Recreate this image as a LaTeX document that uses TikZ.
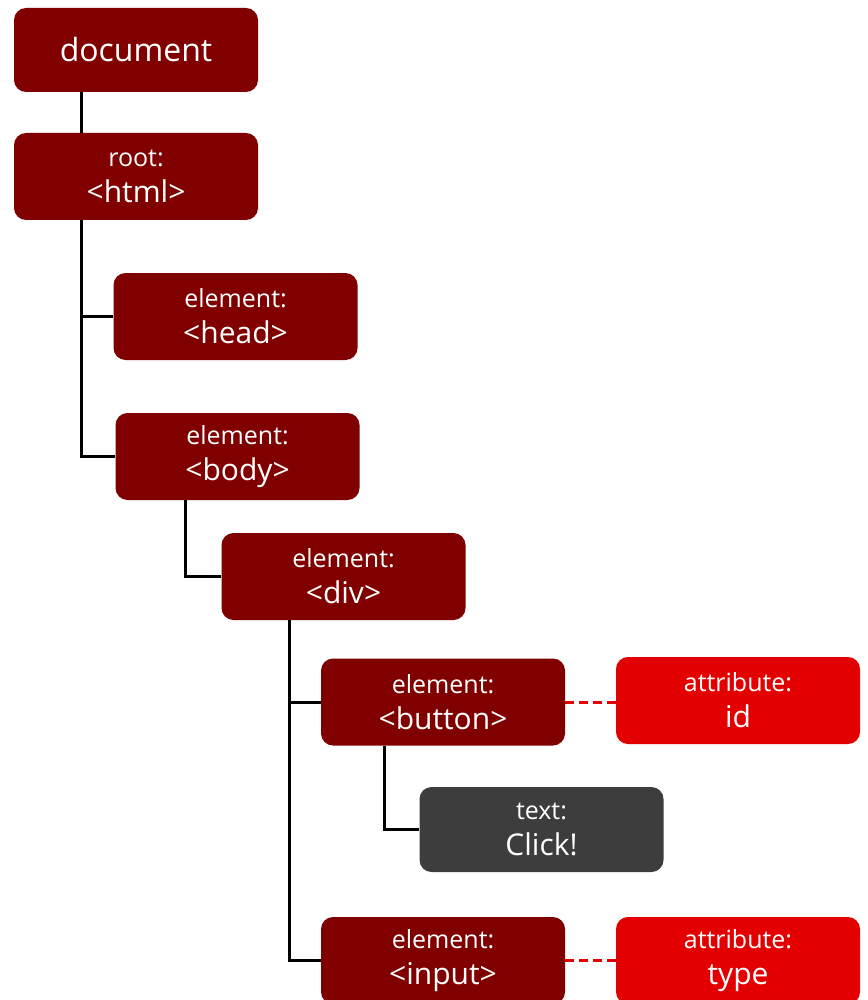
\documentclass[tikz,border=0pt]{standalone}
\usepackage{fontspec}
\setmainfont{Open Sans}
\definecolor{nodered}{HTML}{800000}
\definecolor{attrred}{HTML}{E30000}
\definecolor{textgray}{HTML}{3D3D3D}
\newcommand{\kindof}[1]{{\fontsize{25}{28}\selectfont #1}}

\begin{document}
\begin{tikzpicture}[x=1pt, y=-1pt,
    domnode/.style={rounded corners=12pt, fill=nodered, text=white,
        minimum width=244pt, minimum height=87pt, inner sep=0pt,
        align=center, font=\fontsize{30}{36}\selectfont},
    attrnode/.style={domnode, fill=attrred},
    textnode/.style={domnode, fill=textgray},
    tree/.style={line width=3pt},
    attrlink/.style={line width=3pt, attrred, dash pattern=on 9pt off 5pt}]
    \useasboundingbox (0,0) rectangle (867,1000);

    % nodes of the tree
    \node[domnode, minimum height=84pt, font=\fontsize{32}{36}\selectfont] (document) at (136,50) {document};
    \node[domnode] (html) at (136,176.5) {\kindof{root:}\\<html>};
    \node[domnode] (head) at (235.5,316.5) {\kindof{element:}\\<head>};
    \node[domnode] (body) at (237.5,456.5) {\kindof{element:}\\<body>};
    \node[domnode] (div) at (343.5,576.5) {\kindof{element:}\\<div>};
    \node[domnode] (button) at (443,702) {\kindof{element:}\\<button>};
    \node[attrnode] (id) at (738,700.5) {\kindof{attribute:}\\id};
    \node[textnode, minimum height=85pt] (click) at (541.5,829.5) {\kindof{text:}\\Click!};
    \node[domnode] (input) at (443,960.5) {\kindof{element:}\\<input>};
    \node[attrnode] (type) at (738,960.5) {\kindof{attribute:}\\type};

    % branches
    \draw[tree] ([xshift=68pt]document.south west) -- ([xshift=68pt]html.north west);
    \draw[tree] ([xshift=68pt]html.south west) |- (head.west);
    \draw[tree] ([xshift=68pt]html.south west) |- (body.west);
    \draw[tree] ([xshift=70pt]body.south west) |- (div.west);
    \draw[tree] ([xshift=68pt]div.south west) |- (button.west);
    \draw[tree] ([xshift=68pt]div.south west) |- (input.west);
    \draw[tree] ([xshift=64pt]button.south west) |- (click.west);

    % attributes
    \draw[attrlink] (button.east) -- (button.east -| id.west);
    \draw[attrlink] (input.east) -- (input.east -| type.west);
\end{tikzpicture}
\end{document}
